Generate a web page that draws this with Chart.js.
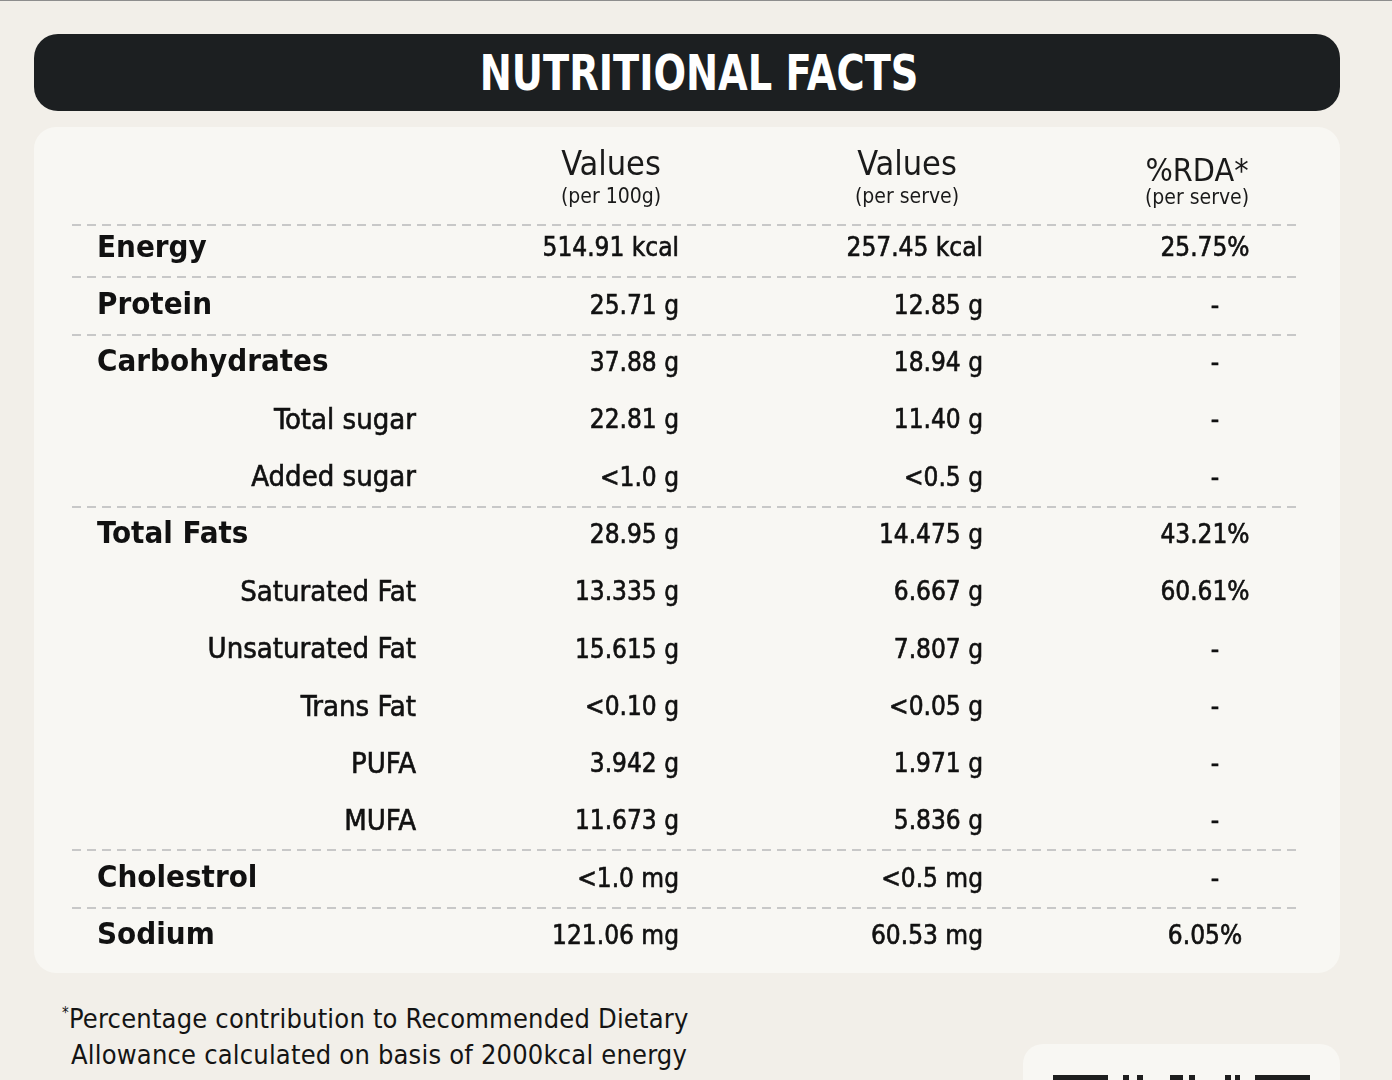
<!DOCTYPE html>
<html>
<head>
<meta charset="utf-8">
<script src="https://cdn.jsdelivr.net/npm/chart.js@4.4.0/dist/chart.umd.min.js"></script>
<style>
  html, body { margin: 0; padding: 0; }
  body {
    width: 1392px; height: 1080px; position: relative; overflow: hidden;
    background: #f2efe9; border-top: 1px solid #8e8e8e; box-sizing: border-box;
    font-family: 'DejaVu Sans Condensed', 'DejaVu Sans', sans-serif; color: #151515;
  }
  #title {
    position: absolute; left: 34px; top: 33px; width: 1306px; height: 77px;
    background: #1c1f21; border-radius: 24px; color: #fff; text-align: center;
    font: bold 49px 'DejaVu Sans Condensed', 'DejaVu Sans', sans-serif; line-height: 80px;
  }
  #title span { display: inline-block; transform: translateX(12px) scaleX(0.87); }
  #card {
    position: absolute; left: 34px; top: 126px; width: 1306px; height: 846px;
    background: #f8f7f3; border-radius: 22px;
  }
  #note { position: absolute; left: 62px; top: 1000px; font-size: 27px; letter-spacing: 0.2px; line-height: 36px; color: #141414; }
  #note sup { font-size: 15px; vertical-align: 10px; line-height: 0; }
  #note .l2 { padding-left: 9px; }
  #logo {
    position: absolute; left: 1023px; top: 1043px; width: 317px; height: 80px;
    background: #f8f7f3; border-radius: 20px;
  }
  #logo span { position: absolute; top: 31px; height: 20px; background: #1e1e1e; }
</style>
</head>
<body>
<div id="title"><span>NUTRITIONAL FACTS</span></div>
<div id="card"><canvas id="facts"></canvas></div>
<div id="note"><div><sup>*</sup>Percentage contribution to Recommended Dietary</div><div class="l2">Allowance calculated on basis of 2000kcal energy</div></div>
<div id="logo">
  <span style="left:30px;width:55px"></span><span style="left:100px;width:6px"></span><span style="left:114px;width:6px"></span>
  <span style="left:147px;width:13px"></span><span style="left:166px;width:6px"></span>
  <span style="left:202px;width:6px"></span><span style="left:212px;width:5px"></span><span style="left:232px;width:55px"></span>
</div>
<script>
'use strict';

// ─── Data ────────────────────────────────────────────────────────────────────
const rowNames = ['Energy', 'Protein', 'Carbohydrates', 'Total sugar', 'Added sugar', 'Total Fats',
  'Saturated Fat', 'Unsaturated Fat', 'Trans Fat', 'PUFA', 'MUFA', 'Cholestrol', 'Sodium'];
const mainRows = ['Energy', 'Protein', 'Carbohydrates', 'Total Fats', 'Cholestrol', 'Sodium'];
const per100g = ['514.91 kcal', '25.71 g', '37.88 g', '22.81 g', '<1.0 g', '28.95 g',
  '13.335 g', '15.615 g', '<0.10 g', '3.942 g', '11.673 g', '<1.0 mg', '121.06 mg'];
const perServe = ['257.45 kcal', '12.85 g', '18.94 g', '11.40 g', '<0.5 g', '14.475 g',
  '6.667 g', '7.807 g', '<0.05 g', '1.971 g', '5.836 g', '<0.5 mg', '60.53 mg'];
const rdaPerServe = ['25.75%', '-', '-', '-', '-', '43.21%', '60.61%', '-', '-', '-', '-', '-', '6.05%'];
const columnTitles = ['Values', 'Values', '%RDA*'];
const columnSubtitles = ['(per 100g)', '(per serve)', '(per serve)'];
const separatorsBefore = ['Protein', 'Carbohydrates', 'Total Fats', 'Cholestrol', 'Sodium'];

// ─── Layout (card pixels) ────────────────────────────────────────────────────
const cardWidth = 1306;
const columnAnchor = [645, 949, 1171];
const columnAlign = ['right', 'right', 'center'];
const headCenter = [577, 873, 1163];
const headOffset = [[-53, -21], [-53, -21], [-46, -20]];
const mainLabelX = 63;
const subLabelX = 382;
const ruleFrom = 38, ruleTo = 1266;
const dashShift = 10;
const FONT = "'DejaVu Sans Condensed', 'DejaVu Sans', sans-serif";

const columns = [per100g, perServe, rdaPerServe];

function heavyText(ctx, str, px, py) {
  ctx.fillText(str, px, py);
  ctx.strokeText(str, px, py);
}

const tablePlugin = {
  id: 'tableText',
  afterDatasetsDraw(chart) {
    const { ctx, chartArea, scales: { x, y } } = chart;
    const step = y.getPixelForValue(1) - y.getPixelForValue(0);
    ctx.save();

    // dashed rules
    ctx.strokeStyle = '#c8c8c8';
    ctx.lineWidth = 2;
    ctx.setLineDash([9, 6]);
    const ruleYs = [chartArea.top + 6].concat(separatorsBefore.map(name =>
      Math.round(y.getPixelForValue(rowNames.indexOf(name)) - step / 2 + 1)));
    ruleYs.forEach(yy => {
      ctx.beginPath();
      ctx.moveTo(x.getPixelForValue(ruleFrom), yy);
      ctx.lineTo(x.getPixelForValue(ruleTo), yy);
      ctx.stroke();
    });
    ctx.setLineDash([]);

    // column heads
    ctx.fillStyle = '#1a1a1a';
    ctx.textAlign = 'center';
    ctx.textBaseline = 'middle';
    columnTitles.forEach((t, c) => {
      const cx = x.getPixelForValue(headCenter[c]);
      ctx.font = (c === 2 ? '32px ' : '34px ') + FONT;
      ctx.fillText(t, cx, chartArea.top + headOffset[c][0]);
      ctx.font = '21px ' + FONT;
      ctx.fillText(columnSubtitles[c], cx, chartArea.top + headOffset[c][1]);
    });

    // row labels
    ctx.fillStyle = '#111';
    ctx.strokeStyle = '#111';
    ctx.lineWidth = 0.6;
    rowNames.forEach((name, i) => {
      const yy = y.getPixelForValue(i);
      if (mainRows.includes(name)) {
        ctx.font = 'bold 31px ' + FONT;
        ctx.textAlign = 'left';
        ctx.fillText(name, x.getPixelForValue(mainLabelX), yy + 1);
      } else {
        ctx.font = '29px ' + FONT;
        ctx.textAlign = 'right';
        heavyText(ctx, name, x.getPixelForValue(subLabelX), yy + 2);
      }
    });

    // cells
    ctx.font = '26px ' + FONT;
    chart.data.datasets.forEach((ds, c) => {
      ctx.textAlign = columnAlign[c];
      chart.getDatasetMeta(c).data.forEach((pt, i) => {
        const str = columns[c][i];
        const px = str === '-' ? pt.x + dashShift : pt.x;
        heavyText(ctx, str, px, pt.y + 2);
      });
    });
    ctx.restore();
  }
};

new Chart(document.getElementById('facts'), {
  type: 'scatter',
  data: {
    datasets: columns.map((col, c) => ({
      label: columnTitles[c] + ' ' + columnSubtitles[c],
      data: rowNames.map(name => ({ x: columnAnchor[c], y: name })),
      pointRadius: 0,
      pointHoverRadius: 0,
    }))
  },
  options: {
    responsive: true,
    maintainAspectRatio: false,
    animation: false,
    events: [],
    layout: { padding: { top: 92, bottom: 9, left: 0, right: 0 } },
    scales: {
      x: { type: 'linear', min: 0, max: cardWidth, display: false },
      y: { type: 'category', labels: rowNames, offset: true, display: false }
    },
    plugins: { legend: { display: false }, tooltip: { enabled: false } }
  },
  plugins: [tablePlugin]
});
</script>
</body>
</html>
